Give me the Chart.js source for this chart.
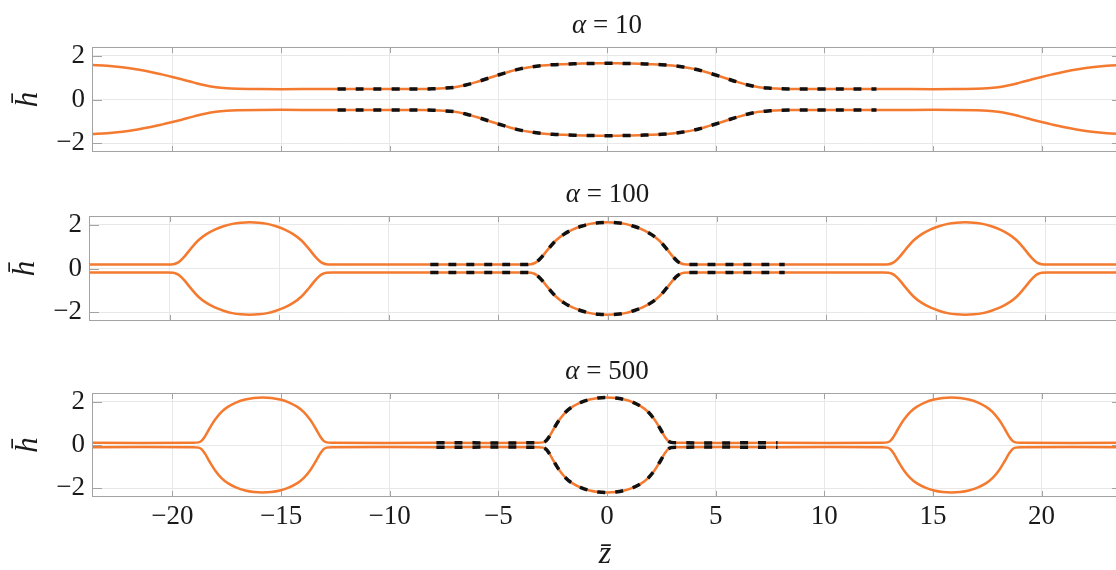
<!DOCTYPE html>
<html>
<head>
<meta charset="utf-8">
<script src="https://cdn.jsdelivr.net/npm/chart.js@4.4.0/dist/chart.umd.min.js"></script>
<style>
body { margin: 0; background: #fff; }
#wrap { position: relative; width: 1116px; height: 570px; overflow: hidden; }
canvas { position: absolute; left: 0; }
</style>
</head>
<body>
<div id="wrap">
  <canvas id="c1" width="1122" height="182" style="top:0px"></canvas>
  <canvas id="c2" width="1126" height="186" style="top:165px"></canvas>
  <canvas id="c3" width="1122" height="230" style="top:340px"></canvas>
</div>
<script>
// profile of the film, upper branch; the lower branch is its mirror image
var z1 = [-23.7, -23, -22.3, -21.6, -21, -20.5, -20, -19.5, -19, -18.5, -18, -17.5, -17, -16, -14, -12.4, -10, -8.5, -8, -7.5,
  -7, -6.5, -6, -5.5, -5, -4.5, -4, -3.5, -3, -2.5, -2, -1.5, -1, -0.5, 0,
  0.5, 1, 1.5, 2, 2.5, 3, 3.5, 4, 4.5, 5, 5.5, 6, 6.5, 7, 7.5, 8, 8.5, 10, 12.4, 14,
  16, 17, 17.5, 18, 18.5, 19, 19.5, 20, 20.5, 21, 21.6, 22.3, 23, 23.7];
var h1 = [1.58, 1.54, 1.47, 1.37, 1.26, 1.15, 1.03, 0.90, 0.77, 0.65, 0.56, 0.51, 0.49, 0.475, 0.475, 0.475, 0.475, 0.48, 0.49, 0.515,
  0.56, 0.66, 0.80, 0.96, 1.12, 1.27, 1.40, 1.49, 1.55, 1.59, 1.615, 1.635, 1.645, 1.652, 1.655,
  1.652, 1.645, 1.635, 1.615, 1.59, 1.55, 1.49, 1.40, 1.27, 1.12, 0.96, 0.80, 0.66, 0.56, 0.515, 0.49, 0.48, 0.475, 0.475, 0.475,
  0.475, 0.49, 0.51, 0.56, 0.65, 0.77, 0.90, 1.03, 1.15, 1.26, 1.37, 1.47, 1.54, 1.58];

var z2 = [-23.7,
  -20.1, -19.85, -19.7, -19.55, -19.35, -19.05, -18.7, -18.35, -17.95, -17.55, -17.15, -16.75, -16.35,
  -15.95, -15.55, -15.15, -14.75, -14.35, -14.0, -13.65, -13.35, -13.15, -13.0, -12.85, -12.6,
  -8.1,
  -3.75, -3.5, -3.35, -3.2, -3.0, -2.7, -2.35, -2.0, -1.6, -1.2, -0.8, -0.4, 0,
  0.4, 0.8, 1.2, 1.6, 2.0, 2.35, 2.7, 3.0, 3.2, 3.35, 3.5, 3.75,
  8.1,
  12.6, 12.85, 13.0, 13.15, 13.35, 13.65, 14.0, 14.35, 14.75, 15.15, 15.55, 15.95, 16.35,
  16.75, 17.15, 17.55, 17.95, 18.35, 18.7, 19.05, 19.35, 19.55, 19.7, 19.85, 20.1,
  23.7];
var h2 = [0.18,
  0.18, 0.195, 0.24, 0.33, 0.53, 0.90, 1.29, 1.56, 1.78, 1.93, 2.04, 2.095, 2.11,
  2.095, 2.04, 1.93, 1.78, 1.56, 1.29, 0.90, 0.53, 0.33, 0.24, 0.195, 0.18,
  0.18,
  0.18, 0.195, 0.24, 0.33, 0.53, 0.90, 1.29, 1.56, 1.78, 1.93, 2.04, 2.095, 2.11,
  2.095, 2.04, 1.93, 1.78, 1.56, 1.29, 0.90, 0.53, 0.33, 0.24, 0.195, 0.18,
  0.18,
  0.18, 0.195, 0.24, 0.33, 0.53, 0.90, 1.29, 1.56, 1.78, 1.93, 2.04, 2.095, 2.11,
  2.095, 2.04, 1.93, 1.78, 1.56, 1.29, 0.90, 0.53, 0.33, 0.24, 0.195, 0.18,
  0.18];

var z3 = [-23.7, -19.05, -18.8, -18.65, -18.5, -18.3, -18.05, -17.75, -17.45, -17.05, -16.65, -16.25, -15.85,
  -15.45, -15.05, -14.65, -14.25, -13.95, -13.65, -13.4, -13.2, -13.05, -12.9, -12.65, -7.85,
  -3.2, -2.95, -2.8, -2.65, -2.45, -2.2, -1.9, -1.6, -1.2, -0.8, -0.4, 0,
  0.4, 0.8, 1.2, 1.6, 1.9, 2.2, 2.45, 2.65, 2.8, 2.95, 3.2, 7.85,
  12.65, 12.9, 13.05, 13.2, 13.4, 13.65, 13.95, 14.25, 14.65, 15.05, 15.45, 15.85,
  16.25, 16.65, 17.05, 17.45, 17.75, 18.05, 18.3, 18.5, 18.65, 18.8, 19.05, 23.7];
var h3 = [0.10, 0.10, 0.12, 0.20, 0.40, 0.75, 1.15, 1.52, 1.76, 1.97, 2.10, 2.17, 2.19,
  2.17, 2.10, 1.97, 1.76, 1.52, 1.15, 0.75, 0.40, 0.20, 0.12, 0.10, 0.10,
  0.10, 0.12, 0.20, 0.40, 0.75, 1.15, 1.52, 1.76, 1.97, 2.10, 2.17, 2.19,
  2.17, 2.10, 1.97, 1.76, 1.52, 1.15, 0.75, 0.40, 0.20, 0.12, 0.10, 0.10,
  0.10, 0.12, 0.20, 0.40, 0.75, 1.15, 1.52, 1.76, 1.97, 2.10, 2.17, 2.19,
  2.17, 2.10, 1.97, 1.76, 1.52, 1.15, 0.75, 0.40, 0.20, 0.12, 0.10, 0.10];

// one period, where the dashed reference solution is drawn
var dashLimits = [12.4, 8.1, 7.85];
var alphas = ['10', '100', '500'];
var xTicks = [-20, -15, -10, -5, 0, 5, 10, 15, 20];
var yTicks = [-2, 0, 2];

var ORANGE = '#f47a30';
var BOX = '#a3a3a3';
var GRID = '#e8e8e8';
var TEXT = '#1a1a1a';
var SERIF = "'Liberation Serif', 'DejaVu Serif', serif";

function minusSign(v) {
  return String(v).replace('-', '\u2212');
}

var frame = {
  id: 'frame',
  afterDraw: function (chart, args, opts) {
    var ctx = chart.ctx, a = chart.chartArea, sx = chart.scales.x, sy = chart.scales.y;
    ctx.save();
    ctx.strokeStyle = BOX;
    ctx.lineWidth = 1;
    ctx.strokeRect(a.left + 0.5, a.top + 0.5, a.right - a.left - 1, a.bottom - a.top - 1);
    ctx.beginPath();
    xTicks.forEach(function (t) {
      var px = Math.round(sx.getPixelForValue(t)) + 0.5;
      ctx.moveTo(px, a.top); ctx.lineTo(px, a.top + 6);
      ctx.moveTo(px, a.bottom); ctx.lineTo(px, a.bottom - 6);
    });
    yTicks.forEach(function (t) {
      var py = Math.round(sy.getPixelForValue(t)) + 0.5;
      ctx.moveTo(a.left, py); ctx.lineTo(a.left + 10, py);
      ctx.moveTo(a.right, py); ctx.lineTo(a.right - 10, py);
    });
    ctx.stroke();

    // title: alpha = ...
    ctx.fillStyle = TEXT;
    ctx.textBaseline = 'alphabetic';
    ctx.textAlign = 'left';
    var cx = sx.getPixelForValue(0);
    ctx.font = 'italic 27px ' + SERIF;
    var wA = ctx.measureText('\u03b1').width;
    ctx.font = '27px ' + SERIF;
    var rest = ' = ' + opts.alpha;
    var wR = ctx.measureText(rest).width;
    var x0 = cx - (wA + wR) / 2, ty = a.top - 14;
    ctx.font = 'italic 27px ' + SERIF;
    ctx.fillText('\u03b1', x0, ty);
    ctx.font = '27px ' + SERIF;
    ctx.fillText(rest, x0 + wA, ty);

    // y label
    ctx.save();
    ctx.translate(a.left - 55, (a.top + a.bottom) / 2);
    ctx.rotate(-Math.PI / 2);
    ctx.textAlign = 'center';
    ctx.font = 'italic 31px ' + SERIF;
    ctx.fillText('h\u0304', 0, 0);
    ctx.restore();

    if (opts.xLabel) {
      ctx.textAlign = 'center';
      ctx.font = 'italic 32px ' + SERIF;
      ctx.fillText('z\u0304', cx - 2, a.bottom + 66);
    }
    ctx.restore();
  }
};

function panel(id, z, h, k, yWidth, padTop, xHeight, showX) {
  var upper = z.map(function (v, i) { return { x: v, y: h[i] }; });
  var lower = z.map(function (v, i) { return { x: v, y: -h[i] }; });
  var inDash = function (p) { return Math.abs(p.x) <= dashLimits[k] + 1e-9; };
  var dashStyle = { borderColor: '#111111', borderWidth: 3.5, borderDash: [8, 10], order: 0 };
  var solidStyle = { borderColor: ORANGE, borderWidth: 2.5, order: 1 };
  var tickFont = { family: SERIF, size: 27 };

  new Chart(document.getElementById(id), {
    type: 'line',
    data: {
      datasets: [
        Object.assign({ data: upper.filter(inDash) }, dashStyle),
        Object.assign({ data: lower.filter(inDash) }, dashStyle),
        Object.assign({ data: upper }, solidStyle),
        Object.assign({ data: lower }, solidStyle)
      ]
    },
    options: {
      responsive: false,
      animation: false,
      devicePixelRatio: 1,
      layout: { autoPadding: false, padding: { top: padTop, left: 0, right: 0, bottom: 0 } },
      elements: {
        point: { radius: 0 },
        line: { tension: 0.35, borderCapStyle: 'butt', fill: false }
      },
      plugins: {
        legend: { display: false },
        tooltip: { enabled: false },
        frame: { alpha: alphas[k], xLabel: showX }
      },
      scales: {
        x: {
          type: 'linear', min: -23.7, max: 23.7,
          afterFit: function (s) { s.height = xHeight; },
          grid: { color: GRID, drawTicks: false },
          border: { display: false },
          ticks: {
            display: showX, stepSize: 5, includeBounds: false, padding: 4, maxRotation: 0,
            autoSkip: false, font: tickFont, color: TEXT, callback: minusSign
          }
        },
        y: {
          type: 'linear', min: -2.4, max: 2.4,
          afterFit: function (s) { s.width = yWidth; },
          grid: { color: GRID, drawTicks: false },
          border: { display: false },
          ticks: {
            stepSize: 2, includeBounds: false, padding: 7,
            font: tickFont, color: TEXT, callback: minusSign
          }
        }
      }
    },
    plugins: [frame]
  });
}

panel('c1', z1, h1, 0, 92, 47, 30, false);
panel('c2', z2, h2, 1, 89, 51, 30, false);
panel('c3', z3, h3, 2, 92, 53, 73, true);
</script>
</body>
</html>
